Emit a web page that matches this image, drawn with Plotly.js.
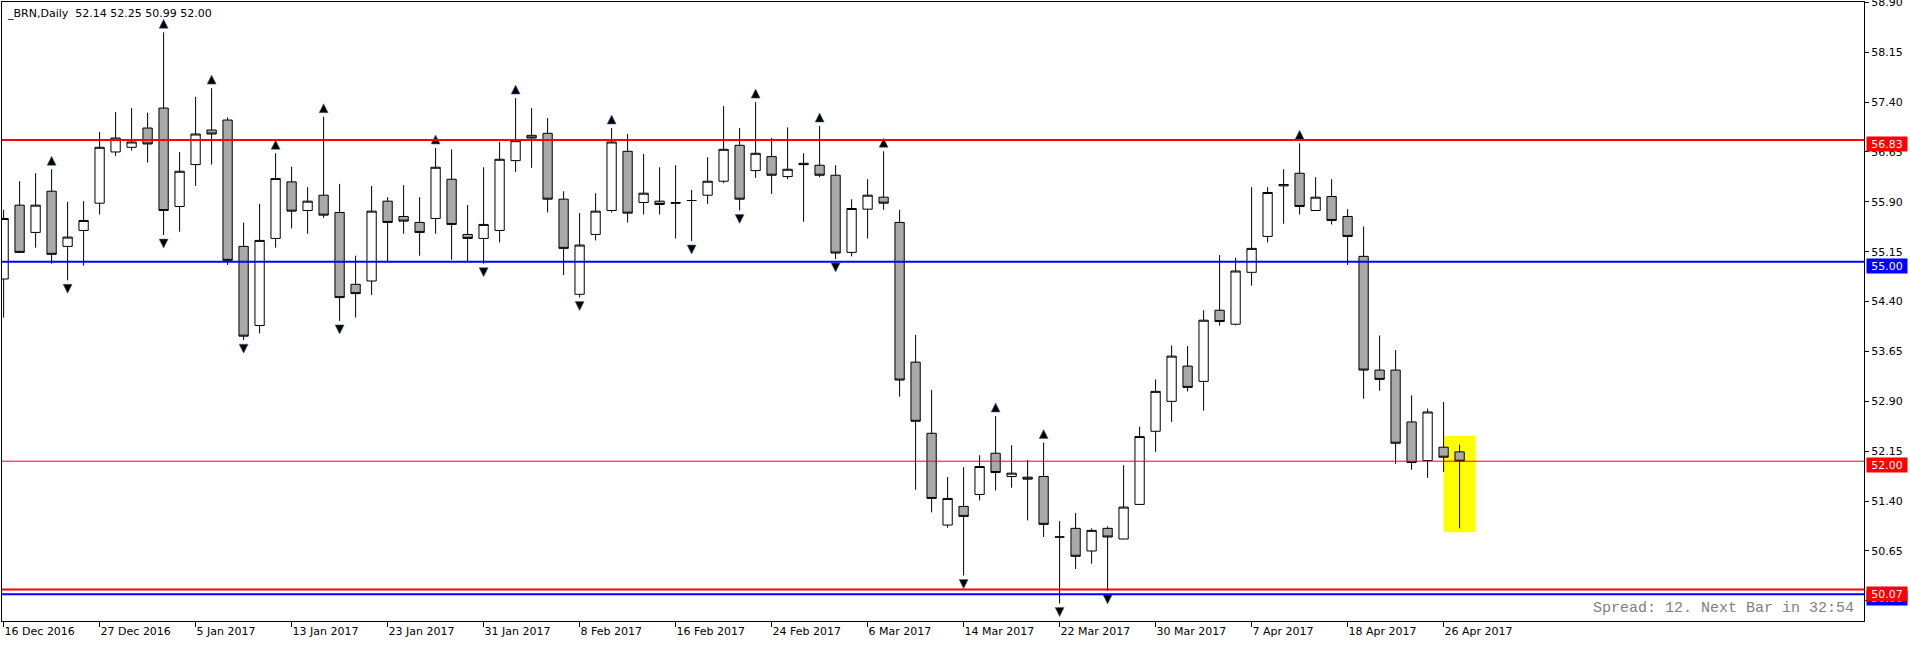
<!DOCTYPE html>
<html><head><meta charset="utf-8">
<script src="https://cdn.plot.ly/plotly-3.0.1.min.js"></script>
<style>html,body{margin:0;padding:0;background:#fff;overflow:hidden}#chart{width:1910px;height:645px}</style>
</head><body><div id="chart"></div>
<script>
const symbolName = '_BRN';
const timeframe = 'Daily';
const dates = [
 '16 Dec 2016','19 Dec 2016','20 Dec 2016','21 Dec 2016','22 Dec 2016','23 Dec 2016',
 '27 Dec 2016','28 Dec 2016','29 Dec 2016','30 Dec 2016','3 Jan 2017','4 Jan 2017',
 '5 Jan 2017','6 Jan 2017','9 Jan 2017','10 Jan 2017','11 Jan 2017','12 Jan 2017',
 '13 Jan 2017','16 Jan 2017','17 Jan 2017','18 Jan 2017','19 Jan 2017','20 Jan 2017',
 '23 Jan 2017','24 Jan 2017','25 Jan 2017','26 Jan 2017','27 Jan 2017','30 Jan 2017',
 '31 Jan 2017','1 Feb 2017','2 Feb 2017','3 Feb 2017','6 Feb 2017','7 Feb 2017',
 '8 Feb 2017','9 Feb 2017','10 Feb 2017','13 Feb 2017','14 Feb 2017','15 Feb 2017',
 '16 Feb 2017','17 Feb 2017','20 Feb 2017','21 Feb 2017','22 Feb 2017','23 Feb 2017',
 '24 Feb 2017','27 Feb 2017','28 Feb 2017','1 Mar 2017','2 Mar 2017','3 Mar 2017',
 '6 Mar 2017','7 Mar 2017','8 Mar 2017','9 Mar 2017','10 Mar 2017','13 Mar 2017',
 '14 Mar 2017','15 Mar 2017','16 Mar 2017','17 Mar 2017','20 Mar 2017','21 Mar 2017',
 '22 Mar 2017','23 Mar 2017','24 Mar 2017','27 Mar 2017','28 Mar 2017','29 Mar 2017',
 '30 Mar 2017','31 Mar 2017','3 Apr 2017','4 Apr 2017','5 Apr 2017','6 Apr 2017',
 '7 Apr 2017','10 Apr 2017','11 Apr 2017','12 Apr 2017','13 Apr 2017','17 Apr 2017',
 '18 Apr 2017','19 Apr 2017','20 Apr 2017','21 Apr 2017','24 Apr 2017','25 Apr 2017',
 '26 Apr 2017','27 Apr 2017'
];
const open = [
 54.74,55.85,55.44,56.06,55.23,55.47, 55.88,56.65,56.72,57.01,57.31,55.83,
 56.46,56.98,57.13,55.23,54.04,55.35, 56.20,55.77,56.00,55.74,54.66,54.71,
 55.91,55.68,55.59,55.65,56.24,55.41, 55.35,55.47,56.52,56.90,56.93,55.94,
 54.51,55.41,55.77,56.66,55.89,55.91, 55.89,55.92,56.00,56.21,56.75,56.37,
 56.58,56.28,56.48,56.45,56.30,55.14, 55.79,55.97,55.59,53.49,52.42,51.04,
 51.32,51.50,52.12,51.77,51.76,51.77, 50.86,50.99,50.65,50.99,50.83,51.35,
 52.45,52.90,53.43,53.20,54.27,54.06, 54.84,55.38,56.14,56.33,55.77,55.98,
 55.68,55.08,53.37,53.37,52.59,52.01, 52.21,52.14
];
const high = [
 55.78,56.21,56.33,56.39,55.90,55.91, 56.95,57.25,57.31,57.24,58.45,56.65,
 57.48,57.61,57.17,55.59,55.87,56.63, 56.43,56.12,57.18,56.17,55.09,56.14,
 55.97,56.15,55.97,56.71,56.69,55.85, 56.42,56.80,57.46,57.31,57.16,56.06,
 55.73,56.03,57.01,56.92,56.62,56.42, 56.45,56.08,56.57,57.34,57.01,57.40,
 56.86,57.02,56.63,57.04,56.45,55.94, 56.24,56.66,55.78,53.90,53.07,51.76,
 51.91,52.09,52.68,52.24,52.02,52.28, 51.10,51.22,50.99,51.02,51.94,52.52,
 53.23,53.74,53.73,54.27,55.10,55.06, 56.12,56.12,56.39,56.78,56.27,56.24,
 55.79,55.53,53.89,53.67,52.99,52.79, 52.89,52.25
];
const low = [
 54.16,55.13,55.21,54.97,54.72,54.94, 55.71,56.59,56.67,56.49,55.40,55.45,
 56.14,56.46,54.95,53.82,53.92,55.21, 55.50,55.42,55.66,54.11,54.16,54.50,
 55.00,55.42,55.09,55.42,55.03,55.00, 54.97,55.29,56.35,56.41,55.74,54.80,
 54.46,55.32,55.74,55.59,55.71,55.71, 55.35,55.31,55.87,56.18,55.77,56.26,
 56.02,56.24,55.60,56.27,55.04,55.08, 55.35,55.78,52.97,51.57,51.23,51.00,
 50.28,51.41,51.56,51.60,51.11,50.86, 49.86,50.38,50.46,50.05,50.83,51.35,
 52.14,52.59,53.05,52.76,54.04,54.04, 54.64,55.29,55.57,55.71,55.77,55.56,
 54.95,52.94,53.06,51.96,51.87,51.75, 51.84,50.99
];
const close = [
 55.65,55.14,55.85,55.11,55.37,55.62, 56.72,56.86,56.80,56.77,55.77,56.36,
 56.92,56.92,55.02,53.88,55.32,56.25, 55.76,55.91,55.70,54.46,54.52,55.76,
 55.59,55.61,55.44,56.42,55.56,55.35, 55.56,56.54,56.82,56.86,55.94,55.20,
 55.25,55.76,56.80,55.73,56.03,55.86, 55.88,55.92,56.21,56.69,55.94,56.63,
 56.30,56.39,56.46,56.30,55.13,55.80, 56.00,55.88,53.22,52.60,51.44,51.44,
 51.17,51.92,51.83,51.82,51.73,51.05, 50.86,50.57,50.96,50.86,51.31,52.37,
 53.05,53.58,53.11,54.12,54.10,54.86, 55.20,56.04,56.16,55.83,55.97,55.62,
 55.38,53.37,53.23,52.27,51.98,52.74, 52.06,52.00
];
// bars marked by the fractal arrows
const fractalUp = [3,10,13,17,20,27,32,38,47,51,55,62,65,81];
const fractalDown = [4,10,15,21,30,36,43,46,52,60,66,69];
// horizontal price lines
const linePrices = [56.83, 55.00, 50.00, 50.07];
const lineColors = ['#FF0000', '#0000FF', '#0000FF', '#FF0000'];
// highlighted zone (bar index range, price range)
const zone = {from: 90, to: 92, low: 50.93, high: 52.38};
const spreadText = 'Spread: 12. Next Bar in 32:54';

const n = dates.length;
const xs = dates.map((d, i) => i);
const pxPerUnit = 66.5;
const tickIdx = xs.filter(i => i % 6 === 0);

const FONT = 'DejaVu Sans, Verdana, sans-serif';

const traces = [
 {
  type: 'candlestick', x: xs, open: open, high: high, low: low, close: close,
  increasing: {line: {color: '#000000', width: 1}, fillcolor: '#FFFFFF'},
  decreasing: {line: {color: '#000000', width: 1}, fillcolor: '#A9A9A9'},
  whiskerwidth: 0, hoverinfo: 'skip', showlegend: false
 },
 {
  type: 'scatter', mode: 'markers', x: fractalUp,
  y: fractalUp.map(i => high[i] + 13 / pxPerUnit),
  marker: {symbol: 'arrow-up', size: 9, color: '#000000', line: {color: '#4A6FA5', width: 0.6}},
  hoverinfo: 'skip', showlegend: false, cliponaxis: false
 },
 {
  type: 'scatter', mode: 'markers', x: fractalDown,
  y: fractalDown.map(i => low[i] - 13 / pxPerUnit),
  marker: {symbol: 'arrow-down', size: 9, color: '#000000', line: {color: '#4A6FA5', width: 0.6}},
  hoverinfo: 'skip', showlegend: false, cliponaxis: false
 }
];

const shapes = [
 {type: 'rect', layer: 'below', xref: 'x', yref: 'y', x0: zone.from, x1: zone.to, y0: zone.low, y1: zone.high,
  fillcolor: '#FFFF00', line: {width: 0}}
];
linePrices.forEach((p, k) => shapes.push({type: 'line', layer: 'above', xref: 'paper', x0: 0, x1: 1, yref: 'y', y0: p, y1: p,
  line: {color: lineColors[k], width: 2}}));
shapes.push({type: 'line', layer: 'above', xref: 'paper', x0: 0, x1: 1, yref: 'y', y0: close[n-1], y1: close[n-1],
  line: {color: '#FF0000', width: 1}});

const annotations = [];
const labelList = linePrices.map((p, k) => ({p: p, c: lineColors[k]}));
labelList.splice(2, 0, {p: close[n-1], c: '#FF0000'});
labelList.forEach(l => annotations.push({
  xref: 'paper', x: 1, xanchor: 'left', xshift: 2, yref: 'y', y: l.p, yshift: -4,
  text: l.p.toFixed(2), showarrow: false, bgcolor: l.c, borderpad: 0, width: 40, height: 14, align: 'center',
  font: {family: FONT, size: 11, color: '#FFFFFF'}
}));
annotations.push({
  xref: 'paper', x: 0, xanchor: 'left', xshift: 3, yref: 'paper', y: 1, yanchor: 'top', yshift: -3,
  text: symbolName + ',' + timeframe + '\u00a0\u00a0' + [open[n-1], high[n-1], low[n-1], close[n-1]].map(v => v.toFixed(2)).join(' '),
  showarrow: false, font: {family: FONT, size: 11, color: '#000000'}
});
annotations.push({
  xref: 'paper', x: 1, xanchor: 'right', xshift: -8, yref: 'paper', y: 0, yanchor: 'bottom', yshift: 2,
  text: spreadText, showarrow: false, font: {family: 'Liberation Mono, Courier New, monospace', size: 15, color: '#808080'}
});

const layout = {
  width: 1910, height: 645,
  margin: {l: 2, r: 46, t: 2, b: 24, pad: 0},
  paper_bgcolor: '#FFFFFF', plot_bgcolor: '#FFFFFF',
  showlegend: false, boxgap: 0.42, boxgroupgap: 0,
  xaxis: {
    range: [-0.1, 116.275], rangeslider: {visible: false}, fixedrange: true,
    tickmode: 'array', tickvals: tickIdx, ticktext: tickIdx.map(i => dates[i]),
    ticks: 'outside', ticklen: 5, tickcolor: '#000000', tickwidth: 1,
    ticklabelposition: 'outside right', ticklabeloverflow: 'allow',
    showline: true, linecolor: '#000000', linewidth: 1, mirror: true,
    showgrid: false, zeroline: false,
    tickfont: {family: FONT, size: 11, color: '#000000'}
  },
  yaxis: {
    side: 'right', range: [49.597, 58.905], fixedrange: true,
    tickmode: 'linear', tick0: 49.90, dtick: 0.75, tickformat: '.2f',
    ticks: 'outside', ticklen: 4, tickcolor: '#000000', tickwidth: 1,
    ticklabeloverflow: 'allow',
    showline: true, linecolor: '#000000', linewidth: 1, mirror: true,
    showgrid: false, zeroline: false,
    tickfont: {family: FONT, size: 11, color: '#000000'}
  },
  shapes: shapes,
  annotations: annotations
};

Plotly.newPlot('chart', traces, layout, {staticPlot: true, displayModeBar: false});
</script>
</body></html>
